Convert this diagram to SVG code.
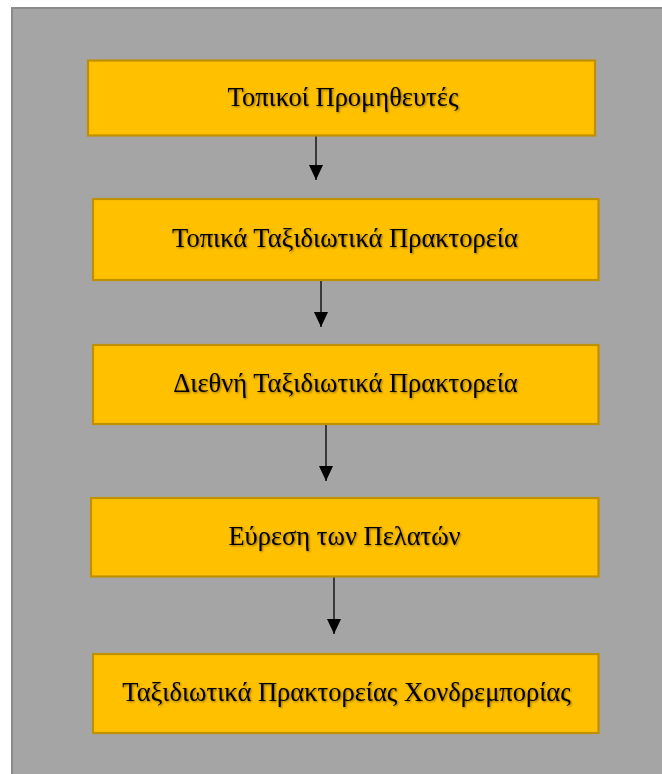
<svg xmlns="http://www.w3.org/2000/svg" width="662" height="774" viewBox="0 0 662 774">
  <defs>
    <style>
      .panel { fill: #a5a5a5; stroke: #8a8a8a; stroke-width: 2; }
      .box { fill: #ffc000; stroke: #bf9000; stroke-width: 2.2; }
      .label { font-family: "Liberation Serif", "Times New Roman", serif; font-size: 26.5px; fill: #000; text-anchor: middle; filter: url(#shadow); }
      .conn { stroke: #000; stroke-width: 1.3; fill: none; marker-end: url(#arrow); }
    </style>
    <marker id="arrow" viewBox="0 0 15 14" refX="15" refY="7" markerWidth="15" markerHeight="14" markerUnits="userSpaceOnUse" orient="auto">
      <path d="M0,0 L15,7 L0,14 Z" fill="#000"/>
    </marker>
    <filter id="shadow" x="-5%" y="-30%" width="110%" height="160%">
      <feGaussianBlur in="SourceAlpha" stdDeviation="0.9"/>
      <feOffset dx="1" dy="1.3" result="b"/>
      <feComponentTransfer><feFuncA type="linear" slope="0.45"/></feComponentTransfer>
      <feMerge><feMergeNode/><feMergeNode in="SourceGraphic"/></feMerge>
    </filter>
  </defs>
  <rect class="panel" x="12" y="8" width="660" height="780"/>
  <g id="connectors">
    <line class="conn" x1="316" y1="136" x2="316" y2="180"/>
    <line class="conn" x1="321" y1="281" x2="321" y2="327"/>
    <line class="conn" x1="326" y1="425" x2="326" y2="481"/>
    <line class="conn" x1="334" y1="577" x2="334" y2="634"/>
  </g>
  <g id="node1">
    <rect class="box" x="88" y="60.5" width="507" height="75"/>
    <text class="label" x="343" y="105.5">Τοπικοί Προμηθευτές</text>
  </g>
  <g id="node2">
    <rect class="box" x="93" y="199" width="505.5" height="81"/>
    <text class="label" x="345" y="247">Τοπικά Ταξιδιωτικά Πρακτορεία</text>
  </g>
  <g id="node3">
    <rect class="box" x="93" y="345" width="505.5" height="79"/>
    <text class="label" x="345.5" y="392">Διεθνή Ταξιδιωτικά Πρακτορεία</text>
  </g>
  <g id="node4">
    <rect class="box" x="91" y="498" width="507.5" height="78.5"/>
    <text class="label" x="344.5" y="544.5">Εύρεση των Πελατών</text>
  </g>
  <g id="node5">
    <rect class="box" x="93" y="654" width="505.5" height="79"/>
    <text class="label" x="346.5" y="701">Ταξιδιωτικά Πρακτορείας Χονδρεμπορίας</text>
  </g>
</svg>
